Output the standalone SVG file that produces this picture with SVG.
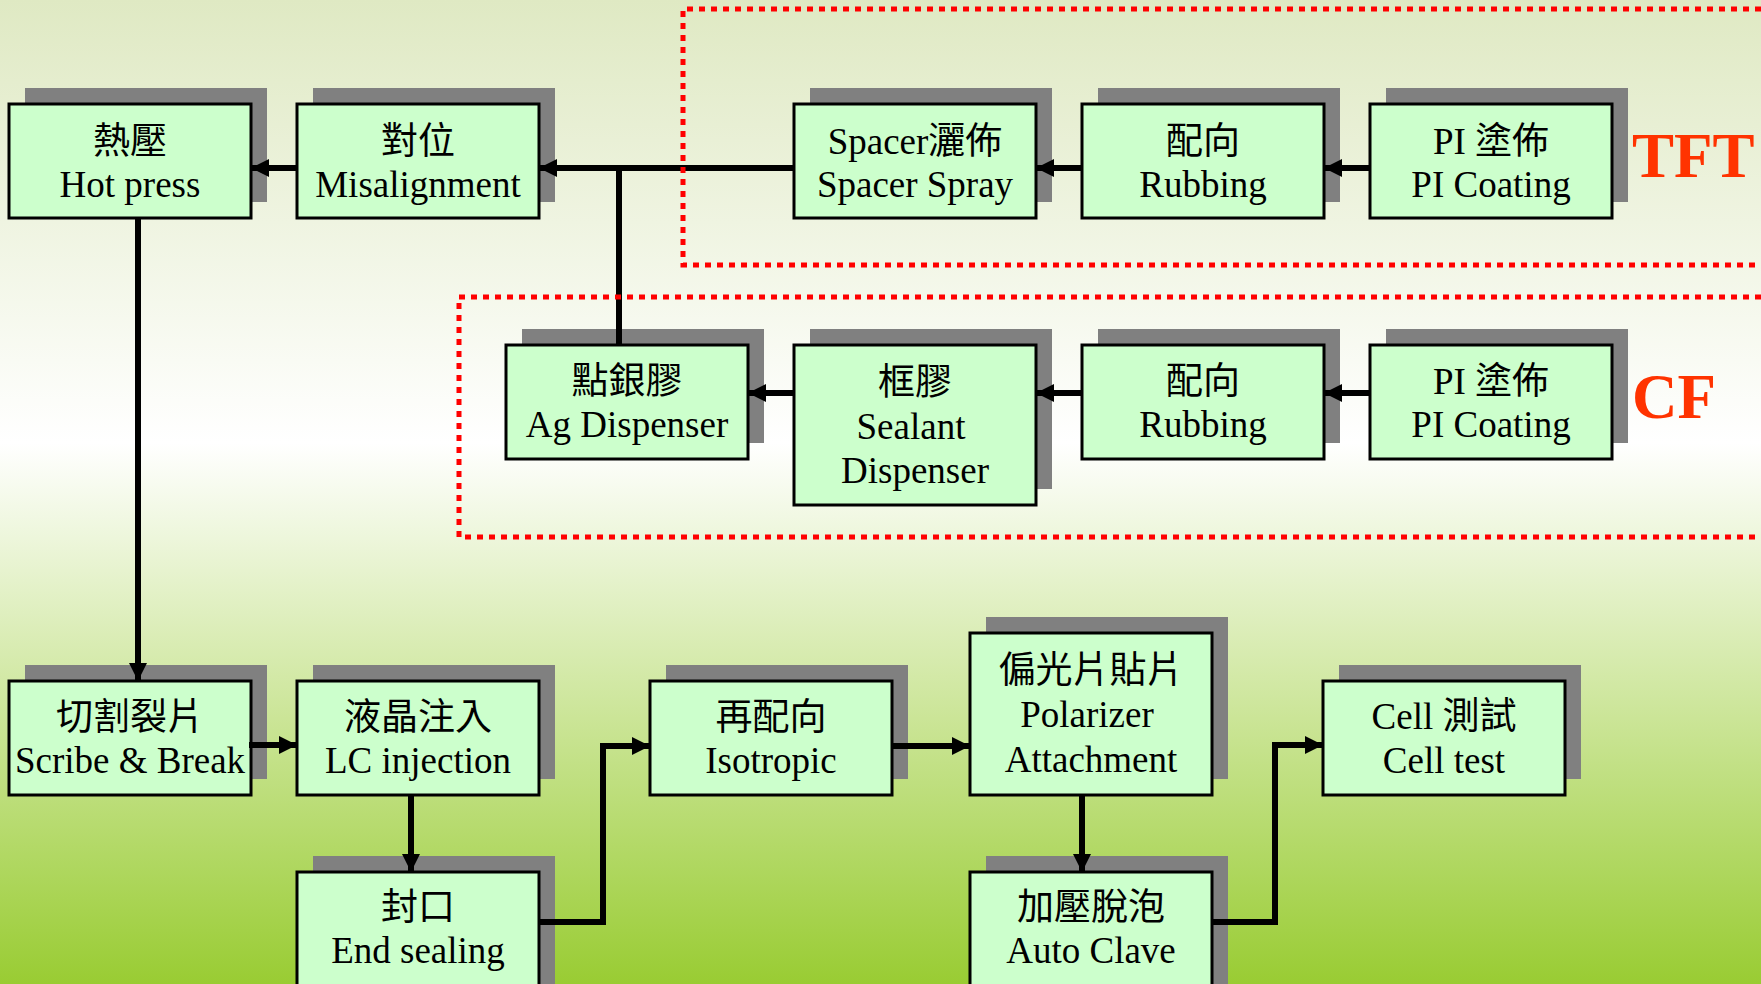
<svg xmlns="http://www.w3.org/2000/svg" width="1761" height="984" viewBox="0 0 1761 984">
<defs>
<linearGradient id="bg" x1="0" y1="0" x2="0" y2="1">
<stop offset="0" stop-color="#DFE9C3"/>
<stop offset="0.45" stop-color="#FFFFFF"/>
<stop offset="1" stop-color="#99CC33"/>
</linearGradient>
<marker id="ah" markerUnits="userSpaceOnUse" markerWidth="19" markerHeight="18" refX="18" refY="9" orient="auto">
<path d="M0,0 L18,9 L0,18 Z" fill="#000"/>
</marker>
<style>
.sh{fill:#808080}
.bx{fill:#CCFFCC;stroke:#000;stroke-width:3}
.t{font-family:"Liberation Serif","Noto Sans CJK TC",serif;font-size:37px;fill:#000;text-anchor:middle}
.c{stroke:#000;stroke-width:6;fill:none}
.a{marker-end:url(#ah)}
.dz{stroke:#FF0000;stroke-width:5;stroke-dasharray:6 6;fill:none}
.lb{font-family:"Liberation Serif",serif;font-weight:bold;font-size:63px;fill:#FF3300}
</style>
</defs>
<rect x="0" y="0" width="1761" height="984" fill="url(#bg)"/>

<g id="hotpress"><rect class="sh" x="25" y="88" width="242" height="114"/><rect class="bx" x="9" y="104" width="242" height="114"/><text class="t" x="130" y="154">熱壓</text><text class="t" x="130" y="197">Hot press</text></g>
<g id="misalignment"><rect class="sh" x="313" y="88" width="242" height="114"/><rect class="bx" x="297" y="104" width="242" height="114"/><text class="t" x="418" y="154">對位</text><text class="t" x="418" y="197">Misalignment</text></g>
<g id="spacer"><rect class="sh" x="810" y="88" width="242" height="114"/><rect class="bx" x="794" y="104" width="242" height="114"/><text class="t" x="915" y="154">Spacer灑佈</text><text class="t" x="915" y="197">Spacer Spray</text></g>
<g id="rubbing-tft"><rect class="sh" x="1098" y="88" width="242" height="114"/><rect class="bx" x="1082" y="104" width="242" height="114"/><text class="t" x="1203" y="154">配向</text><text class="t" x="1203" y="197">Rubbing</text></g>
<g id="pi-tft"><rect class="sh" x="1386" y="88" width="242" height="114"/><rect class="bx" x="1370" y="104" width="242" height="114"/><text class="t" x="1491" y="154">PI 塗佈</text><text class="t" x="1491" y="197">PI Coating</text></g>

<g id="ag"><rect class="sh" x="522" y="329" width="242" height="114"/><rect class="bx" x="506" y="345" width="242" height="114"/><text class="t" x="627" y="394">點銀膠</text><text class="t" x="627" y="437">Ag Dispenser</text></g>
<g id="sealant"><rect class="sh" x="810" y="329" width="242" height="160"/><rect class="bx" x="794" y="345" width="242" height="160"/><text class="t" x="915" y="395">框膠</text><text class="t" x="911" y="439">Sealant</text><text class="t" x="915" y="483">Dispenser</text></g>
<g id="rubbing-cf"><rect class="sh" x="1098" y="329" width="242" height="114"/><rect class="bx" x="1082" y="345" width="242" height="114"/><text class="t" x="1203" y="394">配向</text><text class="t" x="1203" y="437">Rubbing</text></g>
<g id="pi-cf"><rect class="sh" x="1386" y="329" width="242" height="114"/><rect class="bx" x="1370" y="345" width="242" height="114"/><text class="t" x="1491" y="394">PI 塗佈</text><text class="t" x="1491" y="437">PI Coating</text></g>

<g id="scribe"><rect class="sh" x="25" y="665" width="242" height="114"/><rect class="bx" x="9" y="681" width="242" height="114"/><text class="t" x="130" y="730">切割裂片</text><text class="t" x="130" y="773">Scribe &amp; Break</text></g>
<g id="lc"><rect class="sh" x="313" y="665" width="242" height="114"/><rect class="bx" x="297" y="681" width="242" height="114"/><text class="t" x="418" y="730">液晶注入</text><text class="t" x="418" y="773">LC injection</text></g>
<g id="isotropic"><rect class="sh" x="666" y="665" width="242" height="114"/><rect class="bx" x="650" y="681" width="242" height="114"/><text class="t" x="771" y="730">再配向</text><text class="t" x="771" y="773">Isotropic</text></g>
<g id="polarizer"><rect class="sh" x="986" y="617" width="242" height="162"/><rect class="bx" x="970" y="633" width="242" height="162"/><text class="t" x="1091" y="683">偏光片貼片</text><text class="t" x="1087" y="727">Polarizer</text><text class="t" x="1091" y="772">Attachment</text></g>
<g id="celltest"><rect class="sh" x="1339" y="665" width="242" height="114"/><rect class="bx" x="1323" y="681" width="242" height="114"/><text class="t" x="1444" y="729">Cell 測試</text><text class="t" x="1444" y="773">Cell test</text></g>
<g id="endsealing"><rect class="sh" x="313" y="856" width="242" height="140"/><rect class="bx" x="297" y="872" width="242" height="140"/><text class="t" x="418" y="920">封口</text><text class="t" x="418" y="963">End sealing</text></g>
<g id="autoclave"><rect class="sh" x="986" y="856" width="242" height="140"/><rect class="bx" x="970" y="872" width="242" height="140"/><text class="t" x="1091" y="920">加壓脫泡</text><text class="t" x="1091" y="963">Auto Clave</text></g>

<g id="connectors">
<path class="c a" d="M297,168 H251"/>
<path class="c a" d="M794,168 H539"/>
<path class="c" d="M619,345 V165"/>
<path class="c a" d="M1082,168 H1036"/>
<path class="c a" d="M1370,168 H1324"/>
<path class="c a" d="M1370,393 H1324"/>
<path class="c a" d="M1082,393 H1036"/>
<path class="c a" d="M794,393 H748"/>
<path class="c a" d="M138,218 V681"/>
<path class="c a" d="M249,745 H297"/>
<path class="c a" d="M411,795 V872"/>
<path class="c a" d="M539,922 H603 V746 H650"/>
<path class="c a" d="M892,746 H970"/>
<path class="c a" d="M1082,795 V872"/>
<path class="c a" d="M1211,922 H1275 V745 H1323"/>
</g>

<g id="groups">
<path class="dz" d="M1761,9 H683 V265 H1761"/>
<path class="dz" d="M1761,297 H459 V537 H1761"/>
<text class="lb" x="1632" y="177">TFT</text>
<text class="lb" x="1632" y="418">CF</text>
</g>
</svg>
